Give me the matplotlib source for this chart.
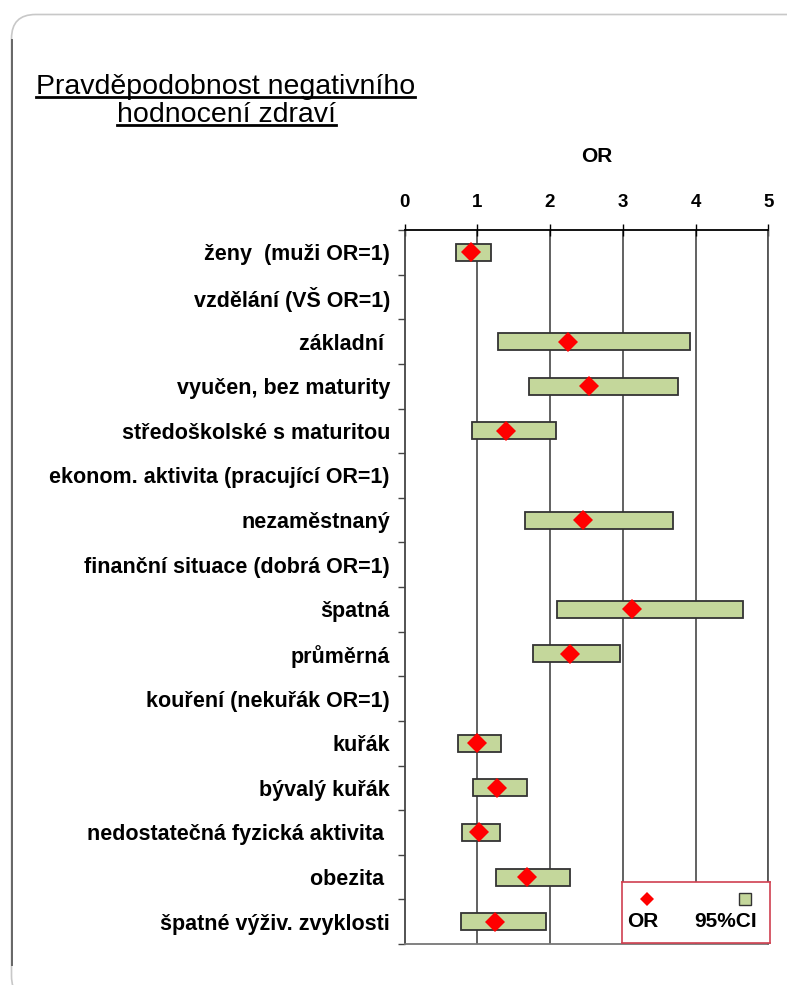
import numpy as np
import matplotlib
matplotlib.use("Agg")
import matplotlib.pyplot as plt
from matplotlib.patches import FancyBboxPatch
from matplotlib.lines import Line2D
from matplotlib.transforms import IdentityTransform

FAM = ["Liberation Sans", "DejaVu Sans"]

labels = [
    "ženy  (muži OR=1)",
    "vzdělání (VŠ OR=1)",
    "základní ",
    "vyučen, bez maturity",
    "středoškolské s maturitou",
    "ekonom. aktivita (pracující OR=1)",
    "nezaměstnaný",
    "finanční situace (dobrá OR=1)",
    "špatná",
    "průměrná",
    "kouření (nekuřák OR=1)",
    "kuřák",
    "bývalý kuřák",
    "nedostatečná fyzická aktivita ",
    "obezita ",
    "špatné výživ. zvyklosti",
]
odds = [0.92, None, 2.25, 2.54, 1.40, None, 2.46, None, 3.12, 2.28, None, 1.00, 1.27, 1.02, 1.69, 1.24]
ci_low = [0.71, None, 1.29, 1.71, 0.93, None, 1.65, None, 2.10, 1.76, None, 0.74, 0.94, 0.79, 1.26, 0.78]
ci_high = [1.19, None, 3.92, 3.76, 2.08, None, 3.69, None, 4.65, 2.96, None, 1.33, 1.69, 1.31, 2.27, 1.94]
xticks = [0, 1, 2, 3, 4, 5]

W, H = 787, 985
fig = plt.figure(figsize=(W / 100, H / 100), dpi=100)
fig.patch.set_facecolor("white")

# rounded slide frame in pixel coords (runs off right and bottom edges)
frame = FancyBboxPatch((11.5, H - 1000), 800, 1000 - 14.5,
                       boxstyle="round,pad=0,rounding_size=24",
                       transform=IdentityTransform(), facecolor="none",
                       edgecolor="#c8c8c8", linewidth=1.2)
fig.patches.append(frame)
fig.lines.append(Line2D([11.5 / W, 11.5 / W], [1 - 40 / H, 1 - 965 / H],
                        transform=fig.transFigure, color="#666666", linewidth=1.4))

ax = fig.add_axes([404.5 / W, 1 - 944 / H, (768.3 - 404.5) / W, (944 - 230) / H])
n = len(labels)
y = np.arange(n)

lo = np.array([np.nan if v is None else v for v in ci_low])
hi = np.array([np.nan if v is None else v for v in ci_high])
orv = np.array([np.nan if v is None else v for v in odds])

ax.barh(y, hi - lo, left=lo, height=0.38, color="#c4d79b", edgecolor="#333333",
        linewidth=1.3, zorder=3)
ax.plot(orv, y, linestyle="none", marker="D", markersize=10, color="#ff0000",
        markeredgewidth=0, zorder=4)

ax.set_xlim(0, 5)
ax.set_ylim(n - 0.5, -0.5)
for xv in xticks[1:]:
    ax.axvline(xv, color="#555555", linewidth=1.3, zorder=1)

ax.xaxis.tick_top()
ax.set_xticks(xticks)
ax.set_xticklabels([str(v) for v in xticks], fontsize=13.5, fontweight="bold", family=FAM)
ax.tick_params(axis="x", direction="inout", length=8, width=1, pad=10, colors="black")

ax.set_yticks(y)
ax.set_yticklabels(labels, fontsize=15.5, fontweight="bold", family=FAM)
ax.tick_params(axis="y", length=0, pad=10.5)
ax.set_yticks(np.arange(n + 1) - 0.5, minor=True)
ax.tick_params(axis="y", which="minor", length=5, width=1, color="#444444", direction="out")

ax.spines["top"].set_linewidth(1.3)
ax.spines["left"].set_linewidth(1.3)
ax.spines["left"].set_color("#444444")
ax.spines["bottom"].set_color("#777777")
ax.spines["bottom"].set_linewidth(1.3)
ax.spines["right"].set_color("#555555")
ax.spines["right"].set_linewidth(1.3)

fig.text(597 / W, 1 - 157 / H, "OR", ha="center", va="center", fontsize=15,
         fontweight="bold", family=FAM)

# title with underline
t1 = fig.text(225.5 / W, 1 - 94 / H, "Pravděpodobnost negativního", ha="center",
              va="baseline", fontsize=20.5, family=FAM)
t2 = fig.text(226.5 / W, 1 - 122 / H, "hodnocení zdraví", ha="center",
              va="baseline", fontsize=20.5, family=FAM)
fig.canvas.draw()
r = fig.canvas.get_renderer()
for t, yb in ((t1, 97), (t2, 125)):
    bb = t.get_window_extent(r)
    fig.lines.append(Line2D([bb.x0 / W, bb.x1 / W], [1 - yb / H, 1 - yb / H],
                            transform=fig.transFigure, color="black", linewidth=2))

# legend box
lax = fig.add_axes([621.7 / W, 1 - 942.7 / H, (770 - 621.7) / W, (942.7 - 881.7) / H])
lax.set_xlim(0, 1)
lax.set_ylim(0, 1)
lax.set_xticks([])
lax.set_yticks([])
for s in lax.spines.values():
    s.set_color("#d04050")
    s.set_linewidth(1.2)
lax.plot([0.17], [0.716], marker="D", markersize=7.5, color="#ff0000", markeredgewidth=0)
lax.plot([0.83], [0.716], marker="s", markersize=9, color="#c4d79b",
         markeredgecolor="#333333", markeredgewidth=1)
lax.text(0.14, 0.34, "OR", ha="center", va="center", fontsize=15, fontweight="bold", family=FAM)
lax.text(0.70, 0.34, "95%CI", ha="center", va="center", fontsize=15, fontweight="bold", family=FAM)

fig.savefig("out.png", dpi=100, facecolor="white")
